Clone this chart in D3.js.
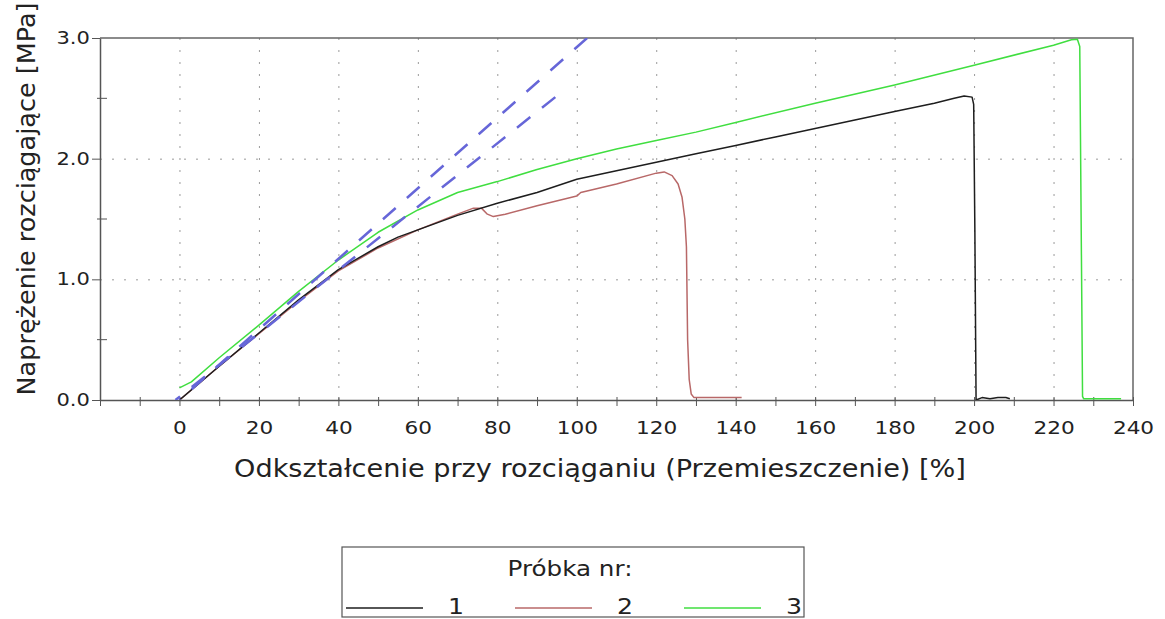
<!DOCTYPE html>
<html>
<head>
<meta charset="utf-8">
<script src="https://cdn.jsdelivr.net/npm/d3@7"></script>
<style>
  body { margin: 0; background: #fff; }
  text { font-family: 'DejaVu Sans', Verdana, sans-serif; fill: #222; }
</style>
</head>
<body>
<div id="chart"></div>
<script>
// sample 1 (black)
const strain1 = [0, 10, 20, 30, 40, 50, 55, 60, 70, 80, 90, 100, 110, 120, 130, 140, 150, 160, 170, 180, 190, 195, 197.5, 199.5, 199.9, 200.2, 200.5, 202, 204, 206, 208, 209];
const stress1 = [0.0, 0.28, 0.555, 0.83, 1.08, 1.27, 1.35, 1.41, 1.53, 1.63, 1.72, 1.83, 1.90, 1.97, 2.04, 2.11, 2.18, 2.25, 2.32, 2.39, 2.46, 2.50, 2.52, 2.51, 2.45, 1.40, 0.0, 0.02, 0.01, 0.02, 0.02, 0.01];

// sample 2 (red)
const strain2 = [0, 10, 20, 30, 40, 50, 60, 70, 74, 76, 77.5, 79, 82, 90, 100, 101, 110, 120, 122, 124, 125.5, 126.5, 127.2, 127.6, 127.9, 128.3, 128.8, 129.5, 135, 141.5];
const stress2 = [0.0, 0.28, 0.55, 0.82, 1.07, 1.26, 1.41, 1.54, 1.59, 1.59, 1.54, 1.52, 1.54, 1.61, 1.69, 1.72, 1.79, 1.88, 1.89, 1.86, 1.79, 1.68, 1.50, 1.27, 0.50, 0.17, 0.05, 0.02, 0.02, 0.02];

// sample 3 (green)
const strain3 = [0, 3, 10, 20, 30, 40, 50, 60, 70, 80, 90, 100, 110, 120, 130, 140, 160, 180, 200, 220, 224.5, 226, 226.6, 227.3, 227.6, 230, 237];
const stress3 = [0.1, 0.15, 0.35, 0.62, 0.90, 1.16, 1.39, 1.575, 1.72, 1.81, 1.91, 2.0, 2.08, 2.15, 2.22, 2.30, 2.46, 2.61, 2.775, 2.94, 2.985, 2.99, 2.93, 0.03, 0.01, 0.01, 0.01];

// modulus (tangent) lines, dashed
const modStrain = [[0, 102.6], [-1, 94.6]];
const modStress = [[0, 3.0], [0, 2.51]];

const xTicks = d3.range(-20, 241, 10);
const xLabels = d3.range(0, 241, 20);
const yMajor = [0, 1, 2, 3];
const yMinor = [0.5, 1.5, 2.5];

const sampleNames = ['1', '2', '3'];
const sampleColors = ['#1e1e1e', '#b86868', '#40de40'];

let
  width = 1165,
  height = 619,
  wide = 1.2,   // the source picture was stretched sideways
  dash = 17,
  gap = 15,
  x,
  y,
  svg,
  g,
  line,
  xAxis,
  yAxis,
  legend,
  series = [[strain1, stress1], [strain2, stress2], [strain3, stress3]];

x = d3.scaleLinear()
  .domain([-20, 240])
  .range([100, 1133]);

y = d3.scaleLinear()
  .domain([0, 3])
  .range([400, 38]);

svg = d3.select('#chart')
  .append('svg')
  .attr('width', width)
  .attr('height', height)
  .attr('style', 'display: block;');

svg.append('clipPath')
  .attr('id', 'plot-clip')
  .append('rect')
  .attr('x', x.range()[0])
  .attr('y', y.range()[1])
  .attr('width', x.range()[1] - x.range()[0])
  .attr('height', y.range()[0] - y.range()[1]);

// dotted grid
svg.append('g')
  .attr('transform', 'translate(0,' + y(0) + ')')
  .call(d3.axisBottom(x)
    .tickValues(d3.range(0, 221, 20))
    .tickSizeInner(-(y(0) - y(3)))
    .tickFormat(''))
  .call(function (s) { s.select('.domain').remove(); })
  .selectAll('line')
  .attr('stroke', '#9a9a9a')
  .attr('stroke-dasharray', '2,10');

svg.append('g')
  .attr('transform', 'translate(' + x(-20) + ',0)')
  .call(d3.axisLeft(y)
    .tickValues([1, 2])
    .tickSizeInner(-(x(240) - x(-20)))
    .tickFormat(''))
  .call(function (s) { s.select('.domain').remove(); })
  .selectAll('line')
  .attr('stroke', '#9a9a9a')
  .attr('stroke-dasharray', '2,10');

// frame top / right
svg.append('path')
  .attr('d', 'M' + x(-20) + ',' + y(3) + 'H' + x(240) + 'V' + y(0))
  .attr('fill', 'none')
  .attr('stroke', '#666')
  .attr('stroke-width', 1.5);

// x axis
xAxis = svg.append('g')
  .attr('transform', 'translate(0,' + y(0) + ')')
  .call(d3.axisBottom(x)
    .tickValues(xTicks)
    .tickSizeOuter(0)
    .tickSizeInner(6)
    .tickPadding(15)
    .tickFormat(function (d) { return xLabels.indexOf(d) >= 0 ? d : ''; }));

xAxis.select('.domain').attr('stroke', '#555').attr('stroke-width', 1.5);
xAxis.selectAll('.tick line').attr('y1', -3).attr('stroke', '#555');
xAxis.selectAll('.tick text')
  .attr('font-size', 18)
  .attr('font-family', "'DejaVu Sans', Verdana, sans-serif")
  .attr('fill', '#222')
  .attr('transform', 'scale(' + wide + ',1)');

// y axis
yAxis = svg.append('g')
  .attr('transform', 'translate(' + x(-20) + ',0)')
  .call(d3.axisLeft(y)
    .tickValues(yMajor)
    .tickSizeOuter(0)
    .tickSizeInner(8)
    .tickFormat(d3.format('.1f')));

yAxis.select('.domain').attr('stroke', '#555').attr('stroke-width', 1.5);
yAxis.selectAll('.tick line').attr('stroke', '#555');
yAxis.selectAll('.tick text')
  .attr('x', -8.5)
  .attr('font-size', 17.5)
  .attr('font-family', "'DejaVu Sans', Verdana, sans-serif")
  .attr('fill', '#222')
  .attr('transform', 'scale(' + wide + ',1)');

yAxis.selectAll('.minor')
  .data(yMinor)
  .enter().append('line')
  .attr('class', 'minor')
  .attr('x1', -3)
  .attr('x2', 7)
  .attr('y1', function (d) { return y(d); })
  .attr('y2', function (d) { return y(d); })
  .attr('stroke', '#555');

g = svg.append('g')
  .attr('clip-path', 'url(#plot-clip)');

line = d3.line()
  .x(function (d) { return x(d[0]); })
  .y(function (d) { return y(d[1]); });

// curves, drawn last-to-first so black ends up on top
[2, 1, 0].forEach(function (i) {
  g.append('path')
    .datum(d3.zip(series[i][0], series[i][1]))
    .attr('fill', 'none')
    .attr('stroke', sampleColors[i])
    .attr('stroke-width', 1.5)
    .attr('stroke-linejoin', 'round')
    .attr('d', line);
});

// dashed modulus lines on top, phase set so each one ends on a dash
modStrain.forEach(function (xs, i) {
  let p = g.append('path')
    .datum(d3.zip(xs, modStress[i]))
    .attr('fill', 'none')
    .attr('stroke', '#6666d8')
    .attr('stroke-width', 2.5)
    .attr('stroke-dasharray', dash + ',' + gap)
    .attr('d', line);
  let len = p.node().getTotalLength(),
    period = dash + gap;
  p.attr('stroke-dashoffset', (((dash - len) % period) + period) % period);
});

// axis titles
svg.append('text')
  .attr('transform', 'translate(600,477) scale(1.13,1)')
  .attr('text-anchor', 'middle')
  .attr('font-size', 24)
  .text('Odkształcenie przy rozciąganiu (Przemieszczenie) [%]');

svg.append('text')
  .attr('transform', 'translate(35,199) rotate(-90)')
  .attr('text-anchor', 'middle')
  .attr('font-size', 25.5)
  .text('Naprężenie rozciągające [MPa]');

// legend
legend = svg.append('g')
  .attr('transform', 'translate(342,547)');

legend.append('rect')
  .attr('width', 462)
  .attr('height', 70)
  .attr('fill', '#fff')
  .attr('stroke', '#555')
  .attr('stroke-width', 1.2);

legend.append('text')
  .attr('transform', 'translate(228,29) scale(' + wide + ',1)')
  .attr('text-anchor', 'middle')
  .attr('font-size', 20.5)
  .text('Próbka nr:');

sampleNames.forEach(function (name, i) {
  let ox = 4 + i * 169;
  legend.append('line')
    .attr('x1', ox)
    .attr('x2', ox + 77)
    .attr('y1', 61)
    .attr('y2', 61)
    .attr('stroke', sampleColors[i])
    .attr('stroke-width', 1.4);
  legend.append('text')
    .attr('transform', 'translate(' + (ox + 110) + ',67) scale(' + wide + ',1)')
    .attr('text-anchor', 'middle')
    .attr('font-size', 21)
    .text(name);
});
</script>
</body>
</html>
